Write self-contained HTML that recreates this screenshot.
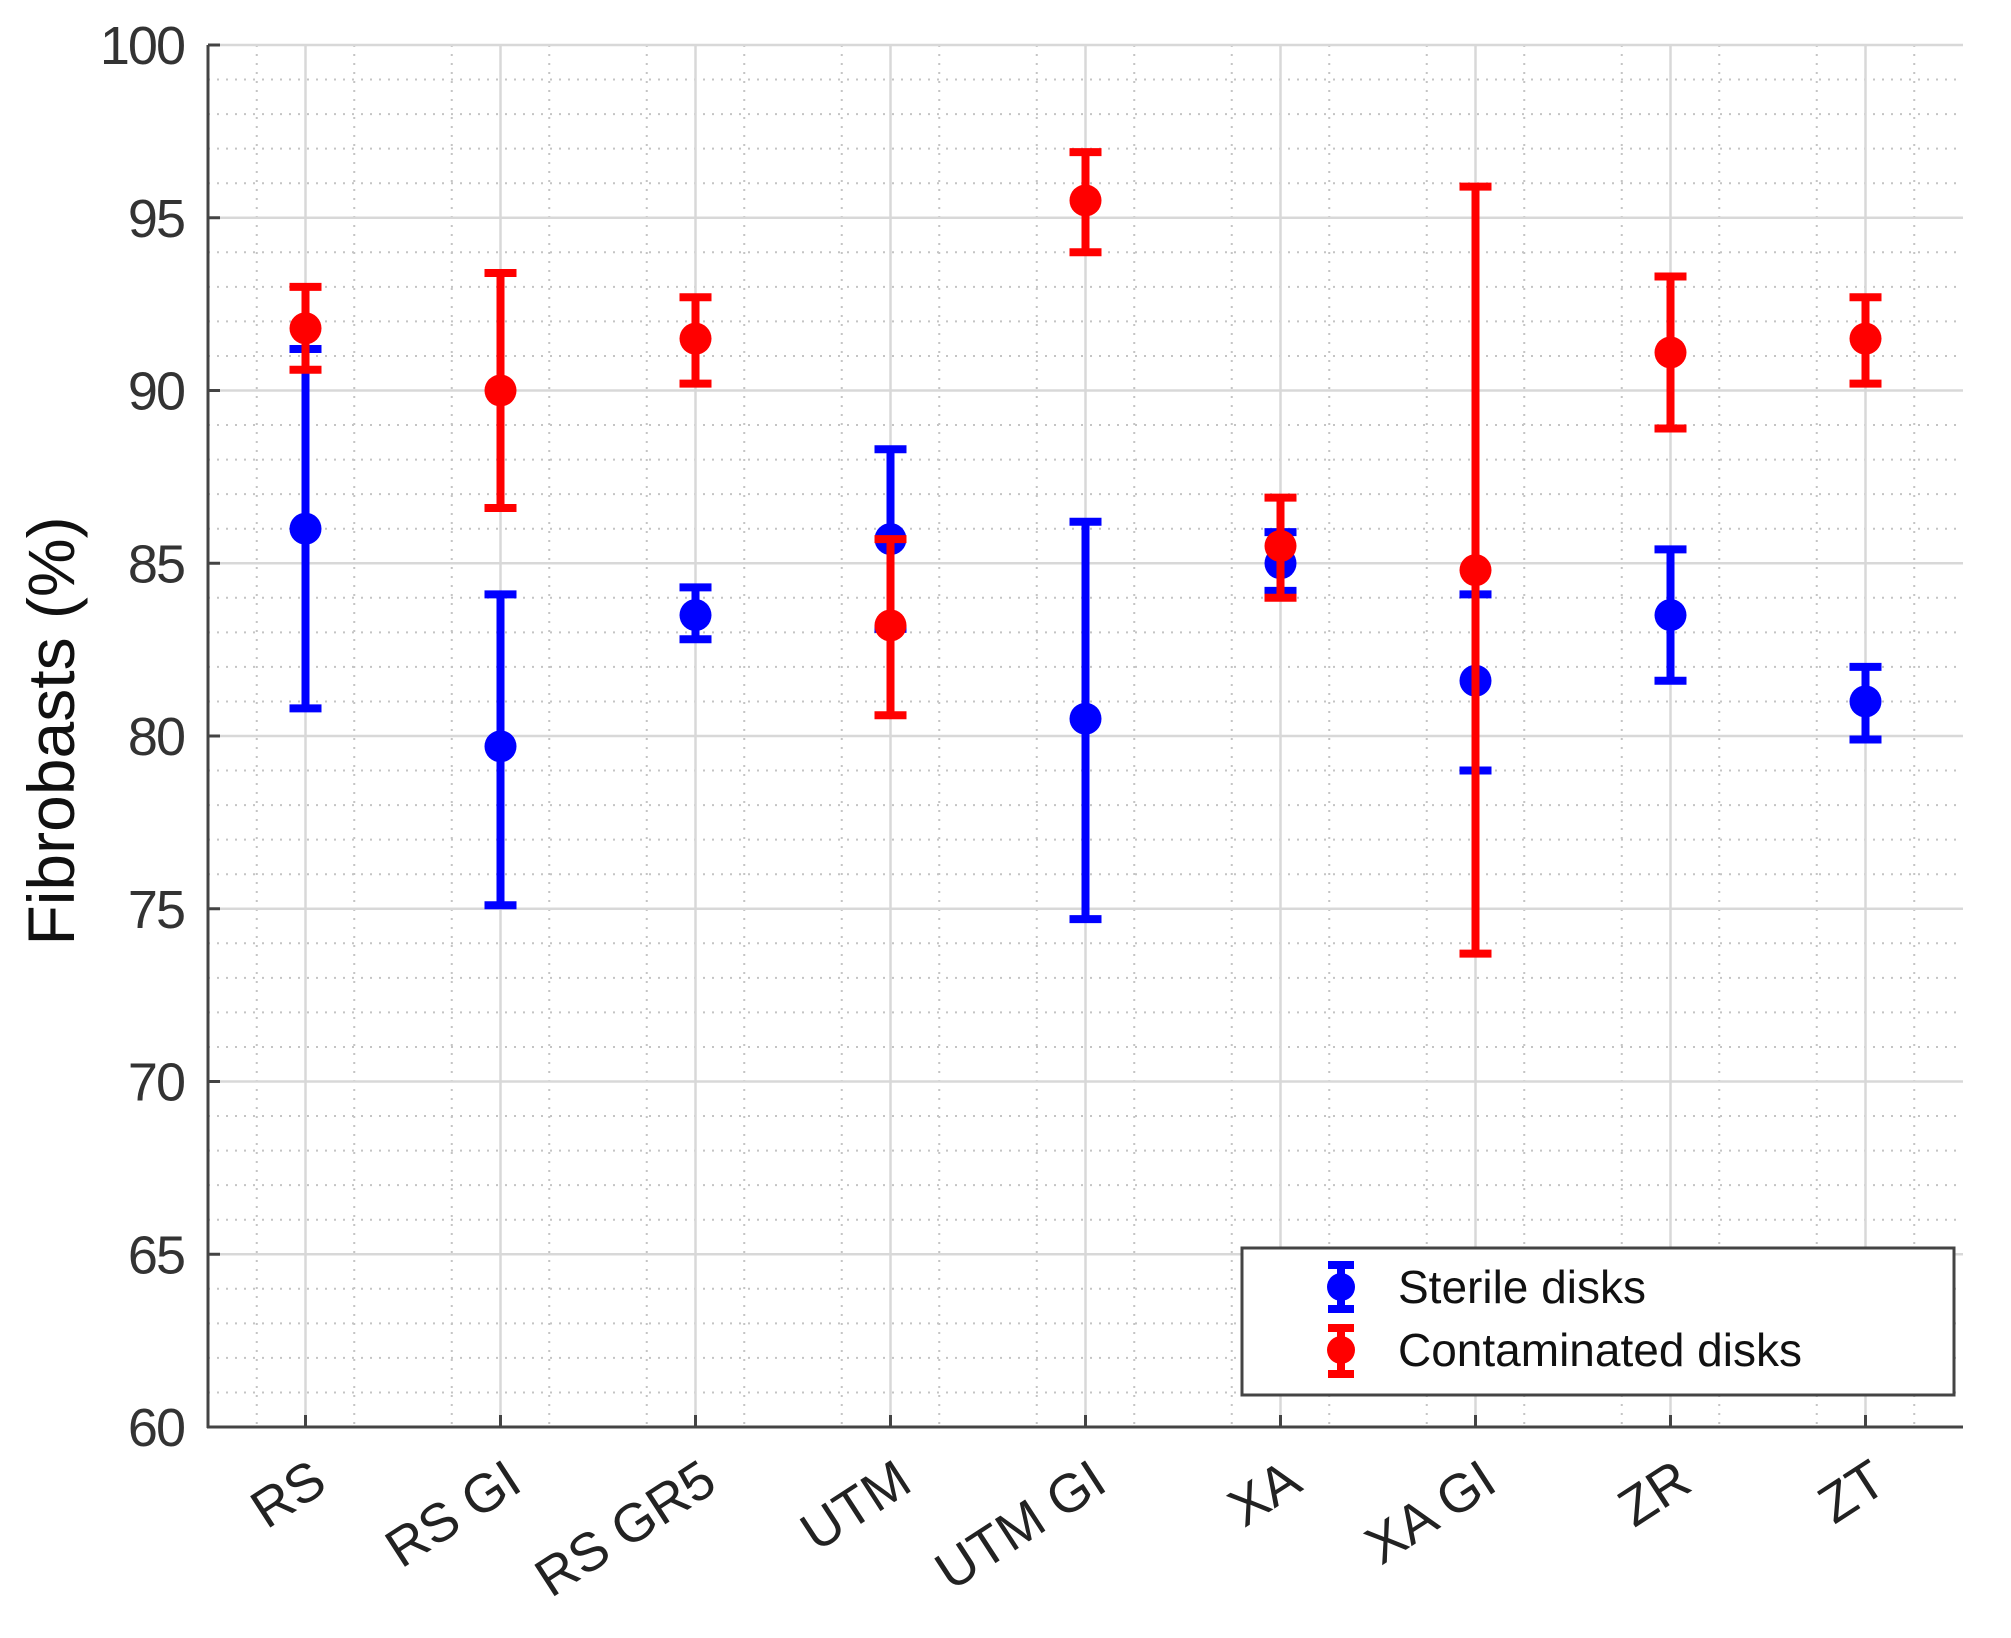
<!DOCTYPE html>
<html><head><meta charset="utf-8"><style>
html,body{margin:0;padding:0;background:#fff;}
svg{display:block;font-family:"Liberation Sans",sans-serif;}
</style></head><body>
<svg id="chart" width="2011" height="1638" viewBox="0 0 2011 1638" xmlns="http://www.w3.org/2000/svg">
<g id="grid"></g>
<g id="axes"></g>
<g id="series"></g>
<text x="0" y="0" transform="translate(74,731) rotate(-90)" text-anchor="middle" font-size="66" fill="#111">Fibrobasts (%)</text>
<g>
<rect x="1242" y="1248" width="712" height="147" fill="#fff" stroke="#444" stroke-width="3"/>
<g>
<line x1="1341" y1="1265" x2="1341" y2="1309" stroke="#0000ff" stroke-width="8"/>
<line x1="1328" y1="1265" x2="1354" y2="1265" stroke="#0000ff" stroke-width="8"/>
<line x1="1328" y1="1309" x2="1354" y2="1309" stroke="#0000ff" stroke-width="8"/>
<circle cx="1341" cy="1287" r="14" fill="#0000ff"/>
<text x="1398" y="1303" font-size="46" fill="#111">Sterile disks</text>
</g>
<g>
<line x1="1341" y1="1328" x2="1341" y2="1374" stroke="#ff0000" stroke-width="8"/>
<line x1="1328" y1="1328" x2="1354" y2="1328" stroke="#ff0000" stroke-width="8"/>
<line x1="1328" y1="1374" x2="1354" y2="1374" stroke="#ff0000" stroke-width="8"/>
<circle cx="1341" cy="1350" r="14" fill="#ff0000"/>
<text x="1398" y="1366" font-size="46" fill="#111">Contaminated disks</text>
</g>
</g>
</svg>
<script>
const categories = ["RS","RS GI","RS GR5","UTM","UTM GI","XA","XA GI","ZR","ZT"];
const sterileMean = [86.0,79.7,83.5,85.7,80.5,85.0,81.6,83.5,81.0];
const sterileLow  = [80.8,75.1,82.8,83.1,74.7,84.2,79.0,81.6,79.9];
const sterileHigh = [91.2,84.1,84.3,88.3,86.2,85.9,84.1,85.4,82.0];
const contMean = [91.8,90.0,91.5,83.2,95.5,85.5,84.8,91.1,91.5];
const contLow  = [90.6,86.6,90.2,80.6,94.0,84.0,73.7,88.9,90.2];
const contHigh = [93.0,93.4,92.7,85.7,96.9,86.9,95.9,93.3,92.7];
const yTicks = [60,65,70,75,80,85,90,95,100];

const NS="http://www.w3.org/2000/svg";
const L=208,R=1963,T=45,B=1427,Y0=60,Y1=100;
const xScale=i=>L+(i+0.5)*(R-L)/categories.length;
const yScale=v=>B-(v-Y0)/(Y1-Y0)*(B-T);
function mk(tag,attrs,parent){const e=document.createElementNS(NS,tag);for(const k in attrs)e.setAttribute(k,attrs[k]);parent.appendChild(e);return e;}
const grid=document.getElementById('grid'),axes=document.getElementById('axes'),series=document.getElementById('series');
for(let v=Y0+1;v<Y1;v++){if(v%5===0)continue;const l=mk('line',{x1:L,x2:R,y1:yScale(v),y2:yScale(v),stroke:'#c4c4c4','stroke-width':2,'stroke-dasharray':'2 7'},grid);

}
for(let i=0;i<categories.length;i++){for(const f of [-0.25,0.25]){const x=L+(i+0.5+f)*(R-L)/categories.length;const l=mk('line',{x1:x,x2:x,y1:T,y2:B,stroke:'#c4c4c4','stroke-width':2,'stroke-dasharray':'2 7'},grid);

}}
yTicks.forEach(v=>{const l=mk('line',{x1:L,x2:R,y1:yScale(v),y2:yScale(v),stroke:'#d8d8d8','stroke-width':2.5},grid);


const tk=mk('line',{x1:L,x2:L+12,y1:yScale(v),y2:yScale(v),stroke:'#444','stroke-width':3},axes);


const t=mk('text',{x:184,y:yScale(v)+19,'text-anchor':'end','font-size':54,fill:'#333','letter-spacing':'-2'},axes);t.textContent=v;

});
categories.forEach((c,i)=>{const x=xScale(i);const l=mk('line',{x1:x,x2:x,y1:T,y2:B,stroke:'#d8d8d8','stroke-width':2.5},grid);


const tk=mk('line',{x1:x,x2:x,y1:B,y2:B-12,stroke:'#444','stroke-width':3},axes);


const t=mk('text',{x:0,y:0,'text-anchor':'end','font-size':54,fill:'#222',transform:`translate(${x+24},${B+62}) rotate(-33)`},axes);t.textContent=c;

});
const ax1=mk('line',{x1:L,x2:L,y1:T,y2:B+1,stroke:'#444','stroke-width':3},axes);


const ax2=mk('line',{x1:L-1,x2:R,y1:B,y2:B,stroke:'#444','stroke-width':3},axes);


function drawSeries(mean,lo,hi,color,name){categories.forEach((c,i)=>{const x=xScale(i);const g=mk('g',{},series);


mk('line',{x1:x,x2:x,y1:yScale(lo[i]),y2:yScale(hi[i]),stroke:color,'stroke-width':8},g);
mk('line',{x1:x-16,x2:x+16,y1:yScale(lo[i]),y2:yScale(lo[i]),stroke:color,'stroke-width':8},g);
mk('line',{x1:x-16,x2:x+16,y1:yScale(hi[i]),y2:yScale(hi[i]),stroke:color,'stroke-width':8},g);
mk('circle',{cx:x,cy:yScale(mean[i]),r:16,fill:color},g);});}
drawSeries(sterileMean,sterileLow,sterileHigh,'#0000ff','sterile');
drawSeries(contMean,contLow,contHigh,'#ff0000','contaminated');
</script>
</body></html>
